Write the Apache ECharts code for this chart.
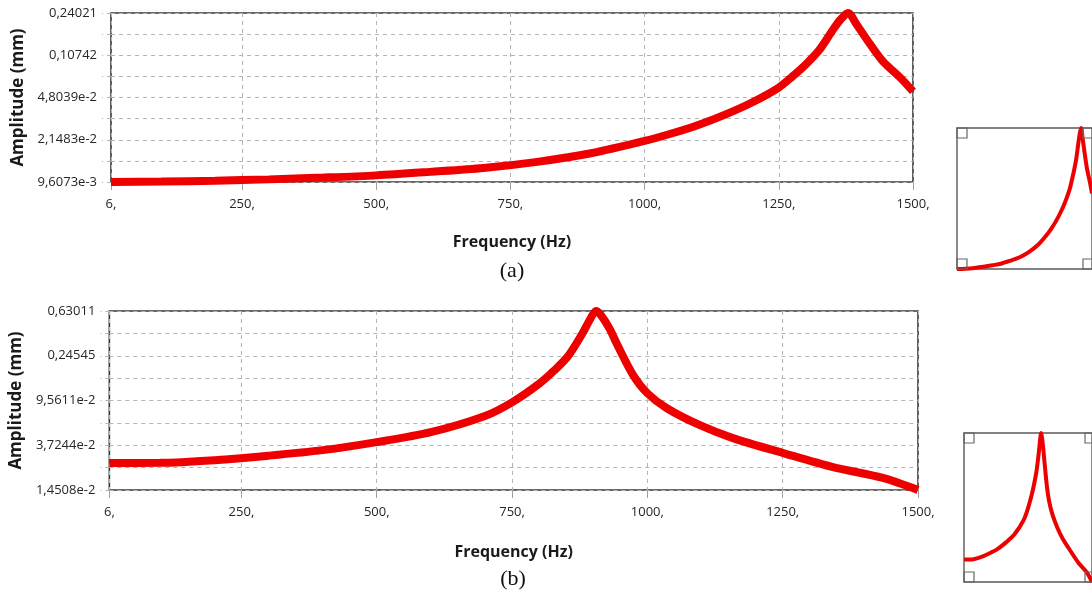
<!DOCTYPE html>
<html><head><meta charset="utf-8">
<script src="https://cdn.jsdelivr.net/npm/echarts@6/dist/echarts.min.js"></script>
<style>html,body{margin:0;padding:0;background:#fff}#c{width:1092px;height:590px}</style>
</head><body><div id="c"></div><script>
// ---- tick values and labels ----
const xTicks = [6, 250, 500, 750, 1000, 1250, 1500];
const xTickLabels = ['6,', '250,', '500,', '750,', '1000,', '1250,', '1500,'];
const yTicksA = [0.0096073, 0.021483, 0.048039, 0.10742, 0.24021];
const yLabelsA = ['9,6073e-3', '2,1483e-2', '4,8039e-2', '0,10742', '0,24021'];
const yTicksB = [0.014508, 0.037244, 0.095611, 0.24545, 0.63011];
const yLabelsB = ['1,4508e-2', '3,7244e-2', '9,5611e-2', '0,24545', '0,63011'];

// ---- series (a) ----
const freqA = [6, 100, 200, 300, 400, 500, 600, 700, 800, 900, 1000, 1050, 1100, 1150, 1200, 1250, 1275, 1300, 1325, 1350, 1365, 1379, 1395, 1414, 1444, 1476, 1500];
const ampA = [0.0096073, 0.00968, 0.00985, 0.0101, 0.01045, 0.0109, 0.01165, 0.01255, 0.0141, 0.0166, 0.0210, 0.0242, 0.0285, 0.0347, 0.0437, 0.0581, 0.0715, 0.0900, 0.1180, 0.1722, 0.2122, 0.24021, 0.193, 0.145, 0.0954, 0.0703, 0.0539];

// ---- series (b) ----
const freqB = [6, 100, 200, 300, 400, 500, 600, 700, 750, 800, 828, 854, 880, 895, 905, 914, 930, 945, 974, 1000, 1036, 1097, 1158, 1251, 1343, 1435, 1500];
const ampB = [0.0256, 0.0257, 0.0272, 0.0299, 0.0336, 0.0398, 0.0491, 0.0690, 0.0920, 0.1360, 0.1800, 0.2455, 0.3927, 0.538, 0.63011, 0.58, 0.436, 0.3053, 0.1625, 0.1114, 0.0812, 0.0568, 0.0433, 0.0316, 0.0235, 0.0187, 0.014508];

function pairs(xs, ys) { return xs.map((x, i) => [x, ys[i]]); }
function withHalf(t) { const o = []; for (let i = 0; i < t.length; i++) { o.push(t[i]); if (i < t.length - 1) o.push(Math.sqrt(t[i] * t[i + 1])); } return o; }
function fmt(ticks, labels) { return v => { for (let i = 0; i < ticks.length; i++) { if (Math.abs(v / ticks[i] - 1) < 1e-4) return labels[i]; } return ''; }; }

const RED = '#ee0000';
const GRID_C = '#b4b4b4';
const LBL = { color: '#262626', fontFamily: 'Open Sans', fontSize: 13 };
const NAMEX = { color: '#1a1a1a', fontFamily: 'Open Sans', fontSize: 16, fontWeight: 'bold' };
const NAMEY = { color: '#1a1a1a', fontFamily: 'Open Sans', fontSize: 17, fontWeight: 'bold' };

const G = [
  { left: 111, top: 13, width: 802, height: 169 },
  { left: 109, top: 311, width: 809, height: 179 },
  { left: 957, top: 128, width: 136, height: 141 },
  { left: 964, top: 433, width: 131, height: 149 }
];

function mainX(gi, gap) {
  return {
    type: 'value', gridIndex: gi, min: 6, max: 1500,
    name: 'Frequency (Hz)', nameLocation: 'middle', nameGap: gap, nameTextStyle: NAMEX,
    axisLine: { show: false },
    axisTick: { show: true, customValues: xTicks, length: 8, lineStyle: { color: '#a0a0a0' } },
    axisLabel: { customValues: xTicks, margin: 16, ...LBL, formatter: v => xTickLabels[xTicks.indexOf(v)] ?? '' },
    splitLine: { show: true, lineStyle: { color: GRID_C, type: [4, 4] } }
  };
}
function mainY(gi, ticks, labels, gap) {
  const all = withHalf(ticks);
  return {
    type: 'log', gridIndex: gi, min: ticks[0], max: ticks[ticks.length - 1],
    logBase: 10,
    name: 'Amplitude (mm)', nameLocation: 'middle', nameGap: gap, nameTextStyle: NAMEY,
    axisLine: { show: false },
    axisTick: { show: true, customValues: all, length: 9, lineStyle: { color: GRID_C, type: [4, 4] } },
    axisLabel: { customValues: ticks, margin: 14, ...LBL, formatter: fmt(ticks, labels) },
    splitLine: { show: true, lineStyle: { color: GRID_C, type: [4, 4] } },
    minorTick: { show: false }
  };
}
function insetX(gi) { return { type: 'value', gridIndex: gi, min: 6, max: 1500, show: false, splitLine: { show: false } }; }
function insetY(gi, ticks) { return { type: 'log', gridIndex: gi, min: ticks[0], max: ticks[ticks.length - 1], show: false, splitLine: { show: false } }; }

function handles(g) {
  const s = 10, out = [];
  const xs = [g.left, g.left + g.width - s], ys = [g.top, g.top + g.height - s];
  xs.forEach(x => ys.forEach(y => out.push({ type: 'rect', shape: { x: x, y: y, width: s, height: s }, style: { fill: 'none', stroke: '#666', lineWidth: 1.2 }, z: 10 })));
  return out;
}

const chart = echarts.init(document.getElementById('c'), null, { renderer: 'canvas' });
chart.setOption({
  animation: false,
  backgroundColor: '#fff',
  grid: G.map((g, i) => ({ ...g, show: true, backgroundColor: 'transparent', borderColor: i < 2 ? '#383838' : '#5a5a5a', borderWidth: i < 2 ? 1.6 : 1.4, containLabel: false })),
  xAxis: [mainX(0, 52), mainX(1, 54), insetX(2), insetX(3)],
  yAxis: [mainY(0, yTicksA, yLabelsA, 83), mainY(1, yTicksB, yLabelsB, 81), insetY(2, yTicksA), insetY(3, yTicksB)],
  series: [
    { type: 'line', xAxisIndex: 0, yAxisIndex: 0, data: pairs(freqA, ampA), showSymbol: false, clip: false, smooth: 0.3, lineStyle: { color: RED, width: 8 }, z: 5 },
    { type: 'line', xAxisIndex: 1, yAxisIndex: 1, data: pairs(freqB, ampB), showSymbol: false, clip: false, smooth: 0.3, lineStyle: { color: RED, width: 8 }, z: 5 },
    { type: 'line', xAxisIndex: 2, yAxisIndex: 2, data: pairs(freqA, ampA), showSymbol: false, clip: false, smooth: 0.3, lineStyle: { color: RED, width: 4 }, z: 5 },
    { type: 'line', xAxisIndex: 3, yAxisIndex: 3, data: pairs(freqB, ampB), showSymbol: false, clip: false, smooth: 0.3, lineStyle: { color: RED, width: 4 }, z: 5 }
  ],
  graphic: [
    { type: 'text', x: 512, y: 271, style: { text: '(a)', fontFamily: 'Liberation Serif', fontSize: 22, fill: '#111', align: 'center', verticalAlign: 'middle' } },
    { type: 'text', x: 513, y: 579, style: { text: '(b)', fontFamily: 'Liberation Serif', fontSize: 22, fill: '#111', align: 'center', verticalAlign: 'middle' } },
    ...handles(G[2]), ...handles(G[3])
  ]
});
</script></body></html>
